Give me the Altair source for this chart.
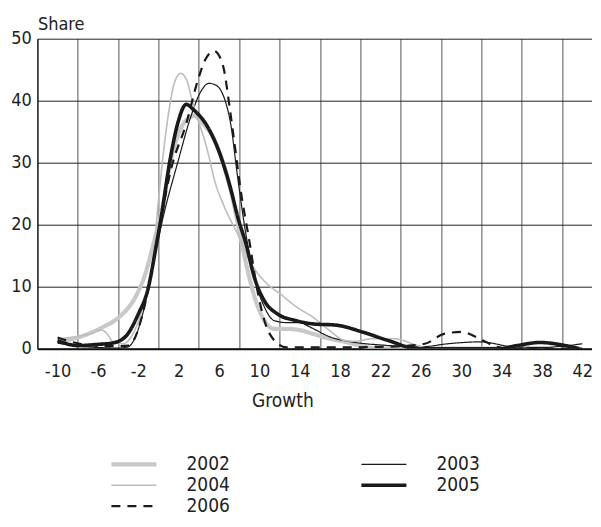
import pandas as pd
import altair as alt

FONT = "DejaVu Sans Condensed, DejaVu Sans, sans-serif"

years = ["2002", "2003", "2004", "2005", "2006"]

growth_2002 = [-10, -7.8, -5.5, -3.9, -2.3, -1.3, -0.5, 0.3, 1.3, 2.2, 3.2, 3.6, 4.1, 5.6, 6.55, 7.4,
               8.2, 9.0, 9.65, 10.5, 11.45, 12.8, 14, 15.3, 16.5, 18.5, 20, 21.8, 26, 30, 34]
share_2002 = [1.1, 1.9, 3.5, 5.1, 8.3, 12.1, 16.9, 22, 31, 35.5, 37.4, 37.6, 36.8, 33.5, 29.2, 23.9,
              17.4, 11.5, 7.7, 4.5, 3.2, 3.2, 3.0, 2.4, 1.8, 1.1, 0.5, 0, 0, 0, 0]

growth_2003 = [-10, -8, -6, -4, -3, -2.5, -1.5, -0.5, 0.5, 1.9, 3.2, 4.2, 5.0, 5.8, 6.2, 6.7, 7.15,
               7.8, 8.5, 9.5, 10.5, 11.5, 12.8, 14, 15, 17, 19.5, 22, 24, 26, 28.7, 31.9, 35.2, 38, 40, 42]
share_2003 = [0.9, 0.4, 0.2, 0.1, 0.3, 1.2, 6, 14, 21.5, 30, 37.4, 41.5, 42.8, 42.4, 41.6, 39.5, 36.3,
              28.2, 20.1, 11.5, 6.7, 4.5, 4.2, 4.2, 3.5, 1.9, 1.0, 0.6, 0.4, 0.3, 0.8, 1.1, 0.3, 0.2, 0.4, 0.8]

growth_2004 = [-10, -8, -6.8, -5.6, -5, -4.5, -3.5, -2.5, -1.5, -0.5, 0, 1, 1.6, 2.2, 2.8, 3.25, 4,
               4.5, 5, 5.5, 6.55, 7.85, 9.2, 10.8, 12.1, 13.7, 15.3, 16.9, 18.5, 19.5, 21.2, 23.4,
               25.7, 27, 30]
share_2004 = [1.6, 2.0, 2.4, 3.0, 2.2, 1.1, 0.8, 2.5, 7, 15, 24, 38, 43, 44.4, 43.3, 40.6, 36.5,
              34, 31, 27.5, 22.8, 18.5, 13.7, 10.4, 8.8, 6.7, 5.1, 3.0, 1.3, 1.2, 1.6, 1.6,
              0.5, 0, 0]

growth_2005 = [-10, -8, -6, -4.6, -3.3, -2, -1, -0.3, 0.3, 1.1, 1.9, 2.75, 3.5, 4.9, 6.2, 7.2, 7.86,
               8.67, 9.5, 10.5, 11.8, 13.7, 15.3, 17.6, 20.2, 22.8, 25.7, 30, 33.7, 35.5, 37.8, 40, 41.7]
share_2005 = [1.3, 0.5, 0.7, 0.9, 1.9, 5.6, 9.9, 15.9, 21.5, 30, 36.3, 39.4, 38.5, 35.7, 30.9, 25.5, 21.2,
              16.9, 11.5, 7.7, 5.6, 4.5, 4.0, 3.8, 2.7, 1.3, 0, 0, 0, 0.5, 1.0, 0.6, 0]

growth_2006 = [-10, -7.8, -4.9, -2.95, -1.65, -0.67, 0.15, 1.3, 2.75, 3.9, 4.7, 5.5, 6.0, 6.5, 7.0, 7.5,
               8.15, 9.0, 9.8, 10.6, 11.5, 12.7, 14, 18, 22, 24, 26.4, 28.3, 30, 32.2, 33.5, 35, 42]
share_2006 = [1.8, 0.8, 0.4, 0.5, 5.1, 12.6, 20.2, 29.3, 36.3, 43.3, 46.8, 48.0, 47.3, 44.9, 39.5, 33.5,
              25.5, 17.4, 9.4, 4.0, 1.3, 0.2, 0.2, 0.2, 0.3, 0.4, 0.8, 2.4, 2.7, 1.3, 0.3, 0, 0]

series = {
    "2002": (growth_2002, share_2002),
    "2003": (growth_2003, share_2003),
    "2004": (growth_2004, share_2004),
    "2005": (growth_2005, share_2005),
    "2006": (growth_2006, share_2006),
}

# line styles per year
colors = ["#c8c8c8", "#1a1a1a", "#bdbdbd", "#1a1a1a", "#1a1a1a"]
widths = [4.2, 1.2, 1.6, 3.6, 2.2]
dashes = [[1, 0], [1, 0], [1, 0], [1, 0], [9, 7]]

rows = []
for yr, (gx, sy) in series.items():
    for g, s in zip(gx, sy):
        rows.append({"year": yr, "growth": g, "share": s})
df = pd.DataFrame(rows)

width_expr = " : ".join(
    f"datum.value == '{y}' ? {w}" for y, w in zip(years[:-1], widths[:-1])
) + f" : {widths[-1]}"

legend = alt.Legend(
    title=None, orient="none", legendX=87, legendY=416, columns=2, direction="horizontal",
    columnPadding=123, rowPadding=1, padding=0,
    symbolType="stroke", symbolSize=2025, symbolStrokeWidth=alt.ExprRef(width_expr),
    labelFont=FONT, labelFontSize=19, labelColor="#222", labelOffset=43,
)

x_axis = alt.Axis(
    values=list(range(-12, 44, 2)),
    labelExpr="datum.value % 4 == 0 ? '' : '' + datum.value",
    labelFont=FONT, labelFontSize=18, labelColor="#222",
    labelBaseline="alphabetic", labelPadding=28,
    labelOverlap=False, labelFlush=False,
    ticks=False, tickSize=0,
    grid=True,
    gridColor=alt.condition("datum.value % 4 == 0", alt.value("#555555"), alt.value("transparent")),
    gridWidth=1,
    domainColor="#111", domainWidth=2,
    title="Growth", titleFont=FONT, titleFontSize=19, titleFontWeight="normal", titleColor="#222",
    titleX=245, titleY=58, titleAlign="center", titleBaseline="alphabetic",
)

y_axis = alt.Axis(
    values=[0, 10, 20, 30, 40, 50],
    labelFont=FONT, labelFontSize=18, labelColor="#222", labelPadding=6,
    ticks=False, tickSize=0,
    grid=True, gridColor="#222", gridWidth=1,
    domainColor="#111", domainWidth=1.2,
    title="Share", titleFont=FONT, titleFontSize=18, titleFontWeight="normal", titleColor="#222",
    titleAngle=0, titleX=0, titleY=-9, titleAlign="left", titleBaseline="alphabetic",
)

width_cond = {
    "condition": [
        {"test": f"datum.year == '{y}'", "value": w} for y, w in zip(years[:-1], widths[:-1])
    ],
    "value": widths[-1],
}

chart = (
    alt.Chart(df)
    .mark_line(interpolate="monotone", clip=True)
    .encode(
        x=alt.X("growth:Q", scale=alt.Scale(domain=[-12, 43], nice=False, zero=False), axis=x_axis),
        y=alt.Y("share:Q", scale=alt.Scale(domain=[0, 50], nice=False), axis=y_axis),
        color=alt.Color("year:N", scale=alt.Scale(domain=years, range=colors), legend=legend),
        strokeDash=alt.StrokeDash("year:N", scale=alt.Scale(domain=years, range=dashes), legend=legend),
        strokeWidth=width_cond,
        order=alt.Order("growth:Q"),
    )
    .properties(
        width=555,
        height=310,
        autosize=alt.AutoSizeParams(type="none"),
        padding={"left": 29.4, "top": 30.7, "right": 0, "bottom": 170},
    )
    .configure_view(stroke=None)
)

chart.save("out.html", embed_options={"renderer": "svg", "actions": False})
